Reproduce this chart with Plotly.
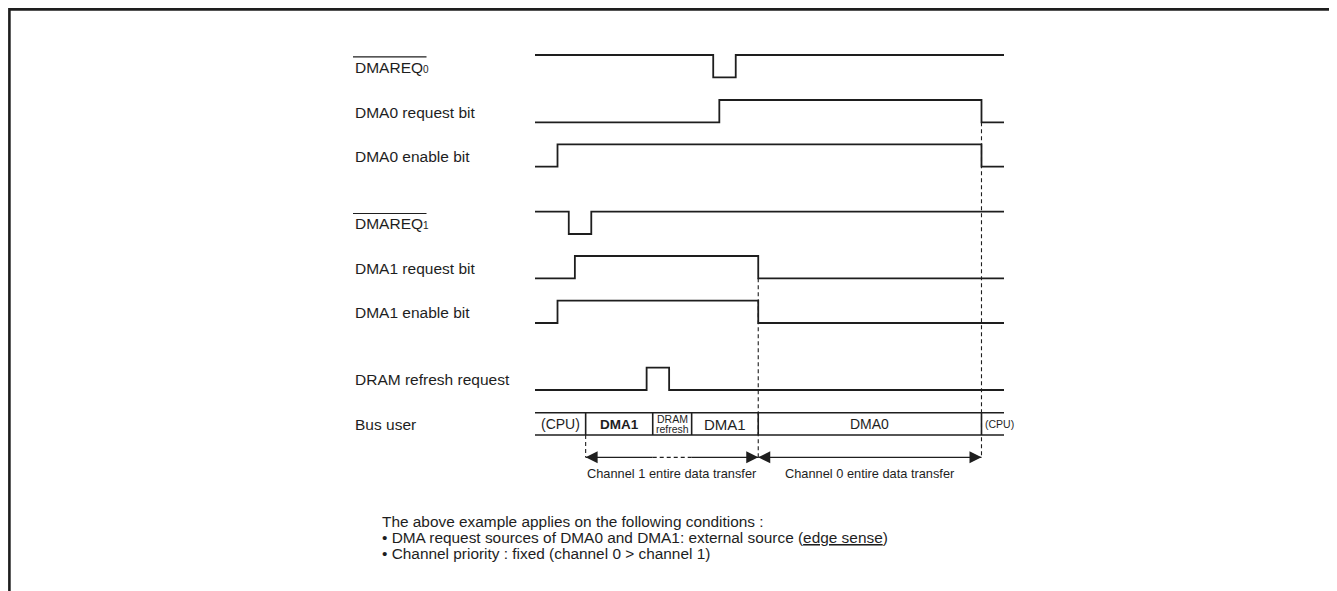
import plotly.graph_objects as go

# ── Data: transition times on a 0…100 time scale ──────────────────────────────
T_START, T_END = 0.0, 100.0

SIGNAL_LABELS = [
    "DMAREQ<span style='font-size:10px'>0</span>",
    "DMA0 request bit",
    "DMA0 enable bit",
    "DMAREQ<span style='font-size:10px'>1</span>",
    "DMA1 request bit",
    "DMA1 enable bit",
    "DRAM refresh request",
]
SIGNAL_INIT = [1, 0, 0, 1, 0, 0, 0]          # level at T_START
ACTIVE_LOW = [True, False, False, True, False, False, False]

DMAREQ0_EDGES = [38.0, 42.8]
DMA0_REQ_EDGES = [39.3, 95.2]
DMA0_EN_EDGES = [4.8, 95.2]
DMAREQ1_EDGES = [7.2, 12.0]
DMA1_REQ_EDGES = [8.5, 47.6]
DMA1_EN_EDGES = [4.8, 47.6]
REFRESH_EDGES = [23.8, 28.6]
SIGNAL_EDGES = [DMAREQ0_EDGES, DMA0_REQ_EDGES, DMA0_EN_EDGES,
                DMAREQ1_EDGES, DMA1_REQ_EDGES, DMA1_EN_EDGES, REFRESH_EDGES]

BUS_EDGES = [10.8, 25.1, 33.4, 47.6, 95.2]
BUS_USERS = ["(CPU)", "<b>DMA1</b>", "DRAM<br>refresh", "DMA1", "DMA0", "(CPU)"]

TRANSFER_LABELS = ["Channel 1 entire data transfer", "Channel 0 entire data transfer"]

NOTES = [
    "The above example applies on the following conditions :",
    "• DMA request sources of DMA0 and DMA1: external source (<u>edge sense</u>)",
    "• Channel priority : fixed (channel 0 > channel 1)",
]

# ── Layout (pixels, measured in page coordinates) ────────────────────────────
PAGE_W, PAGE_H = 1337, 591
BODY = 8                                   # default <body> margin of the page
W, H = PAGE_W - BODY, PAGE_H - BODY        # figure size that fits the window
X0_PX, X1_PX = 535, 1004                   # waveform extent on the page
PX_PER_T = (X1_PX - X0_PX) / (T_END - T_START)
ROW_TOP = [55, 100, 144.3, 211.7, 256, 300.7, 367.7]
SWING = 22.3
BUS_TOP, BUS_BOT = 412.7, 435
BUS_FONT = [14, 13.5, 10.5, 15, 14, 10.5]
ARROW_Y = 457.3
LABEL_X = 353
NOTE_X = 380
NOTE_Y = [521, 537.5, 553]
INK = "#1e1e1e"
FONT = "Liberation Sans, Arial, Helvetica, sans-serif"


def _px(px: float) -> float:
    """Page x pixel -> paper coordinate."""
    return (px - BODY) / W


def _t(px: float) -> float:
    """Page x pixel -> time axis value (for frame decoration only)."""
    return (px - X0_PX) / PX_PER_T


def _step(init: int, edges: list, top: float) -> tuple:
    xs, ys, lvl = [T_START], [], init
    ys.append(top if lvl else top + SWING)
    for e in edges:
        lvl = 1 - lvl
        xs.append(e)
        ys.append(top if lvl else top + SWING)
    xs.append(T_END)
    ys.append(ys[-1])
    return xs, ys


fig = go.Figure()

# ── Waveforms ────────────────────────────────────────────────────────────────
for init, edges, top in zip(SIGNAL_INIT, SIGNAL_EDGES, ROW_TOP):
    xs, ys = _step(init, edges, top)
    fig.add_trace(go.Scatter(
        x=xs, y=ys, mode="lines", line=dict(color=INK, width=1.8, shape="hv"),
        hoverinfo="skip", showlegend=False,
    ))

annotations = []
shapes = []

for label, top, low in zip(SIGNAL_LABELS, ROW_TOP, ACTIVE_LOW):
    annotations.append(dict(
        text=label, x=_px(LABEL_X), xref="paper", y=top + 12, yref="y",
        xanchor="left", yanchor="middle", showarrow=False,
        font=dict(size=15.5, color=INK, family=FONT),
    ))
    if low:  # overline marks an active-low signal
        shapes.append(dict(
            type="line", xref="paper", yref="y",
            x0=_px(LABEL_X), x1=_px(LABEL_X + 73.5), y0=top + 1.8, y1=top + 1.8,
            line=dict(color=INK, width=1.2),
        ))

# ── Bus user row ─────────────────────────────────────────────────────────────
annotations.append(dict(
    text="Bus user", x=_px(LABEL_X), xref="paper", y=BUS_TOP + 12, yref="y",
    xanchor="left", yanchor="middle", showarrow=False,
    font=dict(size=15.5, color=INK, family=FONT),
))
for yb in (BUS_TOP, BUS_BOT):
    fig.add_trace(go.Scatter(
        x=[T_START, T_END], y=[yb, yb], mode="lines",
        line=dict(color=INK, width=1.6), hoverinfo="skip", showlegend=False,
    ))
for e in BUS_EDGES:
    fig.add_trace(go.Scatter(
        x=[e, e], y=[BUS_TOP, BUS_BOT], mode="lines",
        line=dict(color=INK, width=1.6), hoverinfo="skip", showlegend=False,
    ))
bounds = [T_START] + BUS_EDGES + [T_END]
mid_y = (BUS_TOP + BUS_BOT) / 2
for i, (user, size) in enumerate(zip(BUS_USERS, BUS_FONT)):
    last = i == len(BUS_USERS) - 1
    cx = bounds[i] if last else (bounds[i] + bounds[i + 1]) / 2
    lines = user.split("<br>")
    step = size * 0.95
    y_first = mid_y + 0.5 - step * (len(lines) - 1) / 2
    for k, line in enumerate(lines):
        annotations.append(dict(
            text=line, x=cx, xref="x", y=y_first + k * step, yref="y",
            xanchor="left" if last else "center", xshift=2 if last else 0,
            yanchor="middle", showarrow=False,
            font=dict(size=size, color=INK, family=FONT),
        ))

# ── Dashed guides ────────────────────────────────────────────────────────────
guides = [
    (BUS_EDGES[0], BUS_BOT),
    (BUS_EDGES[3], ROW_TOP[4] + SWING),
    (BUS_EDGES[4], ROW_TOP[1] + SWING),
]
for x, y_from in guides:
    fig.add_trace(go.Scatter(
        x=[x, x], y=[y_from, ARROW_Y], mode="lines",
        line=dict(color=INK, width=1.1, dash="4px,3px"),
        hoverinfo="skip", showlegend=False,
    ))

# ── Transfer arrows ──────────────────────────────────────────────────────────
spans = [(BUS_EDGES[0], BUS_EDGES[3]), (BUS_EDGES[3], BUS_EDGES[4])]
gap = (BUS_EDGES[1], BUS_EDGES[2])  # refresh steals the bus: dashed part
for (a, b), label in zip(spans, TRANSFER_LABELS):
    pieces = [(a, b, "solid")]
    if a < gap[0] < b:
        pieces = [(a, gap[0], "solid"), (gap[0], gap[1], "4px,3px"), (gap[1], b, "solid")]
    for p0, p1, dash in pieces:
        fig.add_trace(go.Scatter(
            x=[p0, p1], y=[ARROW_Y, ARROW_Y], mode="lines",
            line=dict(color=INK, width=1.3, dash=dash),
            hoverinfo="skip", showlegend=False,
        ))
    for tip, tail in ((a, a + 2.5), (b, b - 2.5)):
        annotations.append(dict(
            text="", x=tip, y=ARROW_Y, xref="x", yref="y",
            ax=tail, ay=ARROW_Y, axref="x", ayref="y",
            showarrow=True, arrowhead=2, arrowsize=2.0, arrowwidth=1.2,
            arrowcolor=INK, standoff=0, startstandoff=0,
        ))
    annotations.append(dict(
        text=label, x=(a + b) / 2, xref="x", y=ARROW_Y + 16, yref="y",
        xanchor="center", yanchor="middle", showarrow=False,
        font=dict(size=12.8, color=INK, family=FONT),
    ))

# ── Notes ────────────────────────────────────────────────────────────────────
for txt, y in zip(NOTES, NOTE_Y):
    annotations.append(dict(
        text=txt, x=_px(NOTE_X), xref="paper", y=y, yref="y",
        xanchor="left", yanchor="middle", showarrow=False,
        font=dict(size=15.4, color=INK, family=FONT),
    ))

# ── Frame (open at the bottom, like the source figure) ───────────────────────
shapes.append(dict(
    type="rect", xref="x", yref="y",
    x0=_t(BODY + 1.4), x1=_t(1334.3), y0=PAGE_H + 20, y1=BODY + 1.4,
    line=dict(color=INK, width=2.6),
))

fig.update_layout(
    width=W, height=H,
    margin=dict(l=0, r=0, t=0, b=0),
    paper_bgcolor="white", plot_bgcolor="white",
    xaxis=dict(range=[_t(BODY), _t(PAGE_W)], visible=False, fixedrange=True),
    yaxis=dict(range=[PAGE_H, BODY], visible=False, fixedrange=True),
    annotations=annotations,
    shapes=shapes,
    showlegend=False,
)

fig.write_html("out.html")
